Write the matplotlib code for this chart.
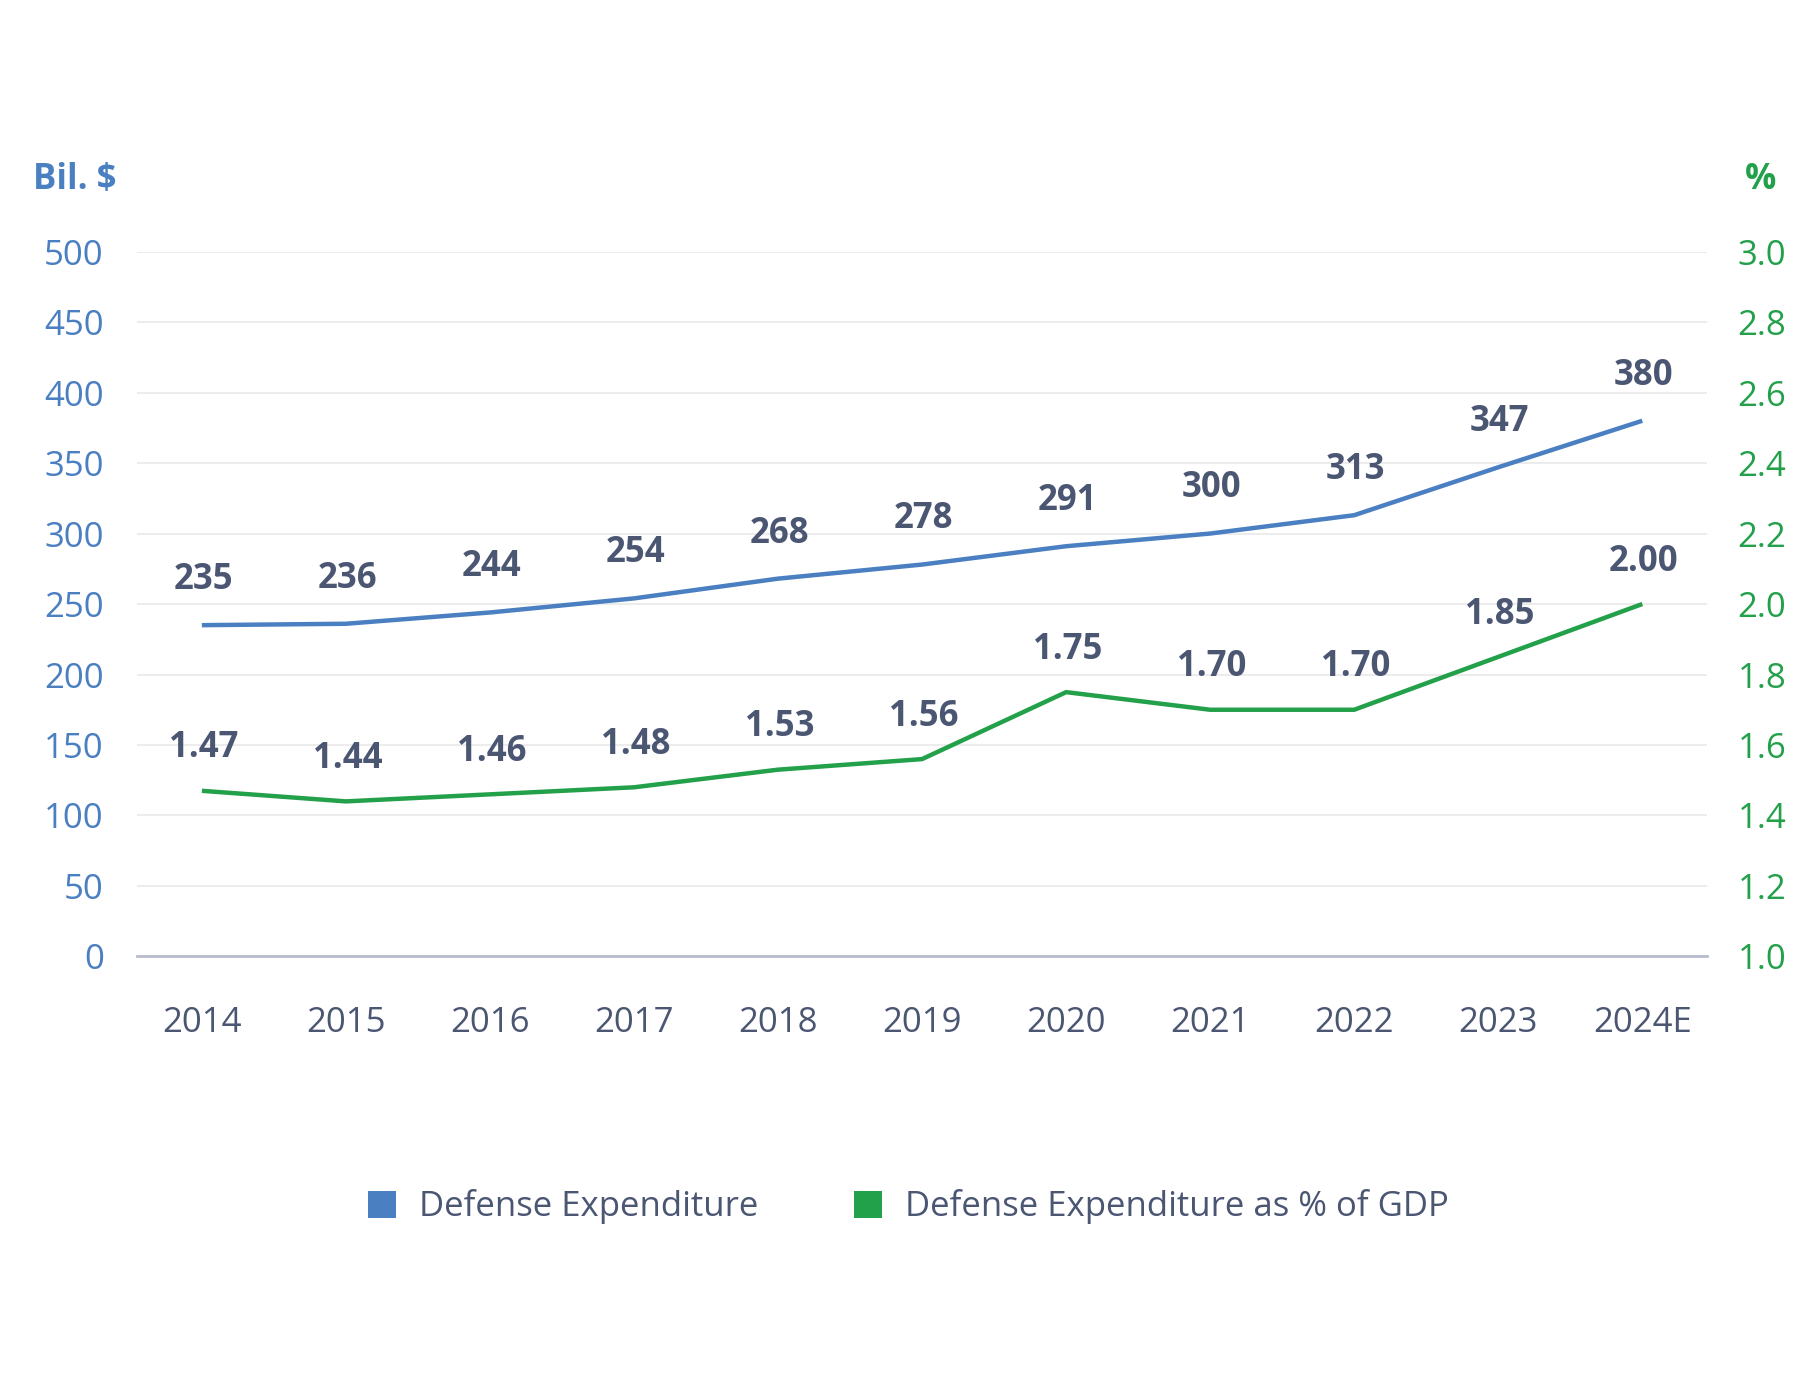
import matplotlib
matplotlib.use("Agg")
import matplotlib.pyplot as plt
from matplotlib.patches import Patch

plt.rcParams['font.family'] = ['Open Sans', 'DejaVu Sans']

years = ["2014", "2015", "2016", "2017", "2018", "2019", "2020", "2021", "2022", "2023", "2024E"]
expenditure = [235, 236, 244, 254, 268, 278, 291, 300, 313, 347, 380]
pct_gdp = [1.47, 1.44, 1.46, 1.48, 1.53, 1.56, 1.75, 1.70, 1.70, 1.85, 2.00]
left_ticks = [0, 50, 100, 150, 200, 250, 300, 350, 400, 450, 500]
right_ticks = [1.0, 1.2, 1.4, 1.6, 1.8, 2.0, 2.2, 2.4, 2.6, 2.8, 3.0]

BLUE = "#4a7fc1"
GREEN = "#23a04a"
TEXT = "#4b5673"
FS = 25

fig = plt.figure(figsize=(18.18, 13.9), dpi=100)
ax = fig.add_axes([0.0754, 0.3119, 0.939 - 0.0754, 0.819 - 0.3119])
ax2 = ax.twinx()

x = list(range(len(years)))
ax.plot(x, expenditure, color=BLUE, lw=3.2, solid_capstyle='butt', zorder=3)
ax2.plot(x, pct_gdp, color=GREEN, lw=3.2, solid_capstyle='butt', zorder=3)

for xi, v in zip(x, expenditure):
    ax.annotate(f"{v}", (xi, v), xytext=(1, 32.5), textcoords="offset points",
                ha="center", va="center", fontsize=FS, fontweight="bold", color=TEXT)
for xi, v in zip(x, pct_gdp):
    ax2.annotate(f"{v:.2f}", (xi, v), xytext=(1, 30.5), textcoords="offset points",
                 ha="center", va="center", fontsize=FS, fontweight="bold", color=TEXT)

ax.set_xlim(-0.45, len(years) - 1 + 0.45)
ax.set_ylim(0, 500)
ax2.set_ylim(1.0, 3.0)
ax.set_yticks(left_ticks)
ax.set_yticklabels([str(t) for t in left_ticks])
ax2.set_yticks(right_ticks)
ax2.set_yticklabels([f"{t:.1f}" for t in right_ticks])
ax.set_xticks(x)
ax.set_xticklabels(years)

ax.grid(axis='y', color="#ececec", lw=1.5)
ax.set_axisbelow(True)
for a in (ax, ax2):
    for s in ["top", "right", "left", "bottom"]:
        a.spines[s].set_visible(False)
ax.spines["bottom"].set_visible(True)
ax.spines["bottom"].set_color("#b8bccc")
ax.spines["bottom"].set_linewidth(2)

ax.tick_params(axis='y', length=0, pad=24, labelsize=FS, labelcolor=BLUE)
ax2.tick_params(axis='y', length=0, pad=22, labelsize=FS, labelcolor=GREEN)
ax.tick_params(axis='x', length=0, pad=36, labelsize=FS, labelcolor=TEXT)

fig.text(116 / 1818, 1 - 180 / 1390, "Bil. $", ha="right", va="center",
         fontsize=FS, fontweight="bold", color=BLUE)
fig.text(1761 / 1818, 1 - 180 / 1390, "%", ha="center", va="center",
         fontsize=FS, fontweight="bold", color=GREEN)

handles = [Patch(facecolor=BLUE, edgecolor="none", label="Defense Expenditure"),
           Patch(facecolor=GREEN, edgecolor="none", label="Defense Expenditure as % of GDP")]
leg = fig.legend(handles=handles, loc="center", bbox_to_anchor=(0.4995, 0.1317), ncol=2,
                 frameon=False, fontsize=FS, handlelength=0.82, handleheight=0.82,
                 handletextpad=0.65, columnspacing=2.75)
for t in leg.get_texts():
    t.set_color(TEXT)

fig.savefig("out.png", dpi=100, facecolor="white")
